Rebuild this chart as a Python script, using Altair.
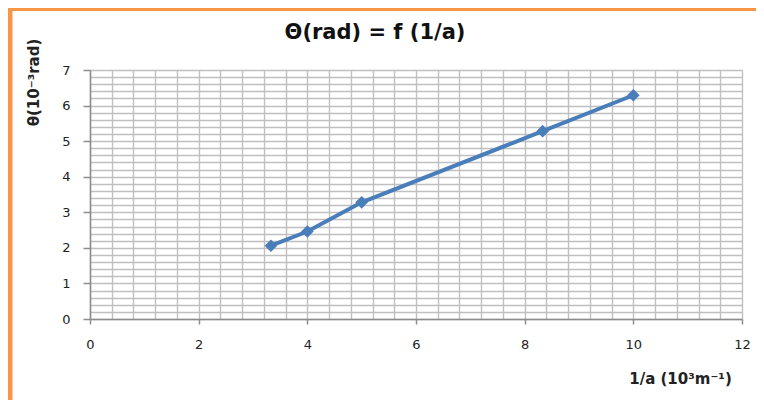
import altair as alt
import pandas as pd

# data
inv_a = [3.33, 4.0, 5.0, 8.33, 10.0]
theta = [2.06, 2.46, 3.28, 5.28, 6.29]

# axis / grid tick values
x_grid = [round(0.4 * i, 1) for i in range(31)]
y_grid = [round(0.2 * i, 1) for i in range(36)]

df = pd.DataFrame({"inv_a": inv_a, "theta": theta})

FONT = "DejaVu Sans"
GRID = "#bfbfbf"
AXC = "#8c8c8c"

x_axis = alt.Axis(
    values=x_grid, tickCount=200,
    grid=True, gridColor=GRID, gridWidth=1.4,
    domainColor=AXC, domainWidth=1.5,
    tickColor=AXC, tickWidth=1.5, tickSize=5,
    tickOpacity={"condition": {"test": "abs(datum.value/2 - round(datum.value/2)) < 0.001", "value": 1}, "value": 0},
    labelExpr="abs(datum.value/2 - round(datum.value/2)) < 0.001 ? format(datum.value, 'd') : ''",
    labelOverlap=False, labelFont=FONT, labelFontSize=13, labelColor="#222222",
    labelPadding=14, labelFlush=False,
    title="1/a (10³m⁻¹)", titleFont=FONT, titleFontSize=15, titleFontWeight="bold",
    titleColor="#222222", titleX=590, titleY=59, titleAlign="center", titleBaseline="middle",
)
y_axis = alt.Axis(
    values=y_grid, tickCount=200,
    grid=True, gridColor=GRID, gridWidth=1.4,
    domainColor=AXC, domainWidth=1.5,
    tickColor=AXC, tickWidth=1.5, tickSize=7,
    tickOpacity={"condition": {"test": "abs(datum.value - round(datum.value)) < 0.001", "value": 1}, "value": 0},
    labelExpr="abs(datum.value - round(datum.value)) < 0.001 ? format(datum.value, 'd') : ''",
    labelOverlap=False, labelFont=FONT, labelFontSize=13, labelColor="#222222",
    labelPadding=13, labelFlush=False,
    title="θ(10⁻³rad)", titleFont=FONT, titleFontSize=15, titleFontWeight="bold",
    titleColor="#222222", titleX=-57, titleY=12, titleAngle=270,
    titleAlign="center", titleBaseline="middle",
)

base = alt.Chart(df)

line = base.mark_line(color="#4a7ebb", strokeWidth=4).encode(
    x=alt.X("inv_a:Q", scale=alt.Scale(domain=[0, 12], nice=False), axis=x_axis),
    y=alt.Y("theta:Q", scale=alt.Scale(domain=[0, 7], nice=False), axis=y_axis),
)
points = base.mark_point(shape="diamond", filled=True, size=160, color="#4a7ebb", opacity=1).encode(
    x="inv_a:Q", y="theta:Q"
)

# orange frame (decoration)
top_border = alt.Chart(pd.DataFrame({"a": [0]})).mark_rule(color="#f79646", strokeWidth=4).encode(
    x=alt.value(-82), x2=alt.value(670), y=alt.value(-61)
)
left_border = alt.Chart(pd.DataFrame({"a": [0]})).mark_rule(color="#f79646", strokeWidth=5).encode(
    x=alt.value(-80), y=alt.value(-62), y2=alt.value(330)
)

chart = alt.layer(line, points, top_border, left_border).properties(
    width=652, height=249,
    autosize=alt.AutoSizeParams(type="none"),
    padding={"left": 82, "top": 62, "right": 14, "bottom": 82},
    title=alt.TitleParams(
        "Θ(rad) = f (1/a)", font=FONT, fontSize=21, fontWeight="bold", color="#111111",
        anchor="middle", dx=-41, offset=0, dy=37,
    ),
).configure_view(strokeWidth=0).configure(background="white")

chart.save("out.html", embed_options={"renderer": "svg", "actions": False})
